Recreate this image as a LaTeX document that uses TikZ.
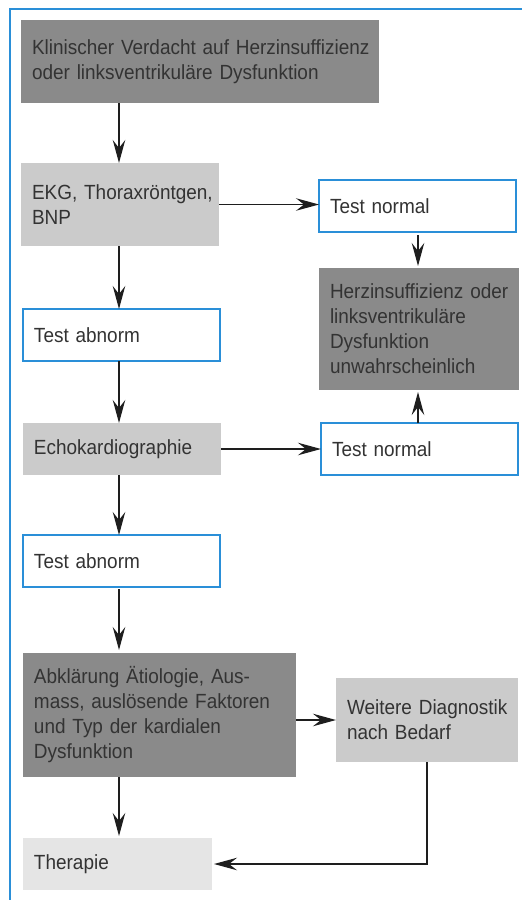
\documentclass[tikz,border=0pt]{standalone}
\usepackage{fontspec}
\setmainfont{Liberation Sans}[FakeStretch=0.925]
\usetikzlibrary{arrows.meta,calc}
\definecolor{darkbox}{HTML}{8A8A8A}
\definecolor{midbox}{HTML}{CBCBCB}
\definecolor{lightbox}{HTML}{E5E5E5}
\definecolor{framebl}{HTML}{2A8FD8}
\definecolor{txt}{HTML}{333333}
\definecolor{arr}{HTML}{1E1E1E}
\newcommand{\myln}[1]{\mbox{#1}}
\begin{document}
\begin{tikzpicture}[x=1pt,y=-1pt,
  base/.style={anchor=north west, inner xsep=11pt, inner ysep=0pt, align=left,
    text=txt, font=\fontsize{20.5}{25}\selectfont, outer sep=0pt},
  darkb/.style={base, fill=darkbox},
  midb/.style={base, fill=midbox},
  lightb/.style={base, fill=lightbox},
  blueb/.style={base, fill=white, draw=framebl, line width=1.5pt},
  sz/.style 2 args={minimum width=#1pt, minimum height=#2pt, text width=#1pt-22pt},
  conn/.style={draw=arr, line width=1.3pt, -{Stealth[length=23pt,width=12.5pt,inset=8pt]}}
]
\useasboundingbox (0,0) rectangle (522,900);
\draw[framebl, line width=1.5pt] (10,900) -- (10,9) -- (522,9);

\node[darkb, sz={358}{83}] (b1) at (21,20) {\myln{Klinischer Verdacht auf Herzinsuffizienz}\\\myln{oder linksventrikuläre Dysfunktion}};
\node[midb, sz={198}{83}] (ekg) at (21,163) {\myln{EKG, Thoraxröntgen,}\\BNP};
\node[blueb, sz={197}{52}] (n1) at (319,180) {\myln{Test normal}};
\node[darkb, sz={200}{122}] (herz) at (319,268) {\myln{Herzinsuffizienz oder}\\\myln{linksventrikuläre}\\\myln{Dysfunktion}\\\myln{unwahrscheinlich}};
\node[blueb, sz={197}{52}] (abn1) at (23,309) {\myln{Test abnorm}};
\node[midb, sz={198}{52}] (echo) at (23,423) {\myln{Echokardiographie}};
\node[blueb, sz={197}{52}] (n2) at (321,423) {\myln{Test normal}};
\node[blueb, sz={197}{52}] (abn2) at (23,535) {\myln{Test abnorm}};
\node[darkb, sz={273}{124}] (abk) at (23,653) {\myln{Abklärung Ätiologie, Aus-}\\\myln{mass, auslösende Faktoren}\\\myln{und Typ der kardialen}\\\myln{Dysfunktion}};
\node[midb, sz={182}{84}] (weit) at (336,678) {\myln{Weitere Diagnostik}\\\myln{nach Bedarf}};
\node[lightb, sz={189}{52}] (ther) at (23,838) {\myln{Therapie}};

\coordinate (col) at (119,0);
\coordinate (col2) at (418,0);
\coordinate (col3) at (427,0);

\draw[conn] (b1.south -| col) -- (ekg.north -| col);
\draw[conn] (ekg.south -| col) -- (abn1.north -| col);
\draw[conn] (ekg.east) -- (ekg.east -| n1.west);
\draw[conn, shorten <=3pt, shorten >=2pt] (n1.south -| col2) -- (herz.north -| col2);
\draw[conn] (abn1.south -| col) -- (echo.north -| col);
\draw[conn] (echo.east) -- (n2.west);
\draw[conn, shorten >=2pt] (n2.north -| col2) -- (herz.south -| col2);
\draw[conn] (echo.south -| col) -- (abn2.north -| col);
\draw[conn, shorten <=2pt, shorten >=3pt] (abn2.south -| col) -- (abk.north -| col);
\draw[conn] (weit.west -| abk.east) -- (weit.west);
\draw[conn, shorten >=2pt] (abk.south -| col) -- (ther.north -| col);
\draw[conn, shorten >=2pt] (weit.south -| col3) |- (ther.east);
\end{tikzpicture}
\end{document}
